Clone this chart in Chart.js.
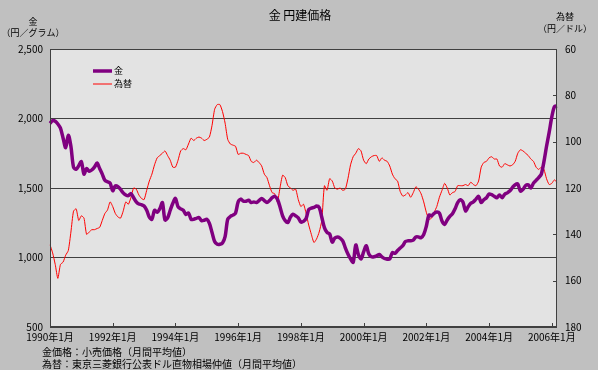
<!DOCTYPE html>
<html><head><meta charset="utf-8">
<script src="https://cdn.jsdelivr.net/npm/chart.js@4/dist/chart.umd.min.js"></script>
<style>html,body{margin:0;padding:0;background:#c0c0c0;overflow:hidden}</style>
</head><body>
<canvas id="c" width="598" height="370"></canvas>
<script>
const titleText = '金 円建価格';
const leftAxisTitle = ['金', '（円／グラム）'];
const rightAxisTitle = ['為替', '（円／ドル）'];
const footnotes = ['金価格：小売価格（月間平均値）', '為替：東京三菱銀行公表ドル直物相場仲値（月間平均値）'];
const seriesNames = ['金', '為替'];
const startYear = 1990;
const monthCount = 195;
const categories = [];
for (let k = 0; k < monthCount; k++) {
  categories.push((startYear + Math.floor(k / 12)) + '年' + (k % 12 + 1) + '月');
}
const xTickLabels = ['1990年1月','1992年1月','1994年1月','1996年1月','1998年1月','2000年1月','2002年1月','2004年1月','2006年1月'];
const leftTicks = [500, 1000, 1500, 2000, 2500];
const rightTicks = [60, 80, 100, 120, 140, 160, 180];

const goldValues = [
1965,1985,1980,1960,1930,1860,1790,1880,1800,1650,
1635,1660,1690,1600,1640,1620,1630,1650,1680,1640,
1600,1555,1545,1535,1480,1515,1510,1490,1465,1450,
1445,1460,1430,1400,1385,1380,1370,1340,1290,1275,
1340,1325,1350,1395,1270,1285,1340,1390,1425,1365,
1350,1340,1310,1320,1275,1275,1282,1287,1265,1268,
1275,1245,1180,1115,1095,1095,1105,1150,1275,1295,
1305,1320,1400,1420,1405,1405,1412,1395,1400,1395,
1410,1425,1410,1395,1410,1430,1440,1420,1365,1300,
1265,1252,1290,1312,1300,1285,1255,1260,1280,1345,
1355,1360,1370,1360,1290,1215,1180,1170,1110,1140,
1148,1140,1120,1070,1025,990,965,1090,1020,990,
1040,1085,1025,1005,1005,1012,1022,1005,993,988,
990,1035,1030,1050,1068,1085,1115,1120,1120,1125,
1148,1148,1143,1165,1225,1305,1300,1318,1328,1320,
1262,1238,1270,1295,1315,1350,1395,1415,1400,1335,
1365,1390,1400,1420,1440,1395,1415,1430,1457,1452,
1440,1430,1450,1430,1455,1465,1480,1505,1524,1528,
1478,1490,1518,1522,1500,1535,1555,1575,1600,1690,
1800,1900,2010,2085,2090
];
const fxValues = [
144.5,148,153,159,153,152,149,147,139,130,
129,134,132,133,140,139,138,138,137.5,137,
134,131,129.5,126,128,131,132.5,133,130,126,
127,124,120,120.5,123,124.5,125,121,117,114,
110,107,106,105,104,106,108,111,111,108,
104,103,103.5,101,98.5,99.5,98.5,98,98.5,99.5,
99,98,93,86,84,84,87,92,99,101,
101.5,102,105.5,105,105,105.5,106,108.5,109,108,
109,110.5,114,115.5,119,122,122.5,126,120,114.5,
115.5,119,120,121,120.5,125,128,127,131,136,
140,143.5,142,139,134,119,121,116,117,120,
120.5,120,121,120.5,116,110,106.5,105,103,104,
108,109.5,107.5,106.5,106,106,108.5,107,108,108.5,
110.5,114,116,117,121.5,123.5,123,122,124,122,
119.5,120.5,122.5,126,130.5,133.5,133,130.5,128,124,
121,118,120,123,122,121.5,119,119,119,118.5,
119,117.5,118.5,119,117,111,109,108.5,107,106.5,
107.5,107.5,110.5,111,109.5,110,110.5,110,108.5,105,
103.5,104,105,106,107.5,108.5,111,112,111,112,
116,118.5,118,116.5,117.5
];

const JP = '"Noto Sans CJK JP", "Noto Sans", sans-serif';

const decor = {
  id: 'decor',
  beforeDraw(chart) {
    const ctx = chart.ctx, a = chart.chartArea;
    ctx.save();
    ctx.fillStyle = '#c0c0c0';
    ctx.fillRect(0, 0, chart.width, chart.height);
    ctx.fillStyle = '#e3e3e3';
    ctx.fillRect(a.left, a.top, a.right - a.left, a.bottom - a.top);
    ctx.restore();
  },
  afterDraw(chart) {
    const ctx = chart.ctx, a = chart.chartArea;
    const xs = chart.scales.x, yr = chart.scales.y1;
    ctx.save();
    ctx.strokeStyle = '#404040';
    ctx.lineWidth = 1;
    ctx.strokeRect(Math.round(a.left) + 0.5, Math.round(a.top) + 0.5, Math.round(a.right - a.left) - 1, Math.round(a.bottom - a.top) - 1);
    ctx.beginPath();
    categories.forEach((c, i) => {
      if (xTickLabels.includes(c) && i > 0) {
        const px = Math.round(xs.getPixelForValue(i)) + 0.5;
        ctx.moveTo(px, a.bottom); ctx.lineTo(px, a.bottom - 4);
      }
    });
    rightTicks.forEach(v => {
      const py = Math.round(yr.getPixelForValue(v)) + 0.5;
      ctx.moveTo(a.right, py); ctx.lineTo(a.right - 4, py);
    });
    ctx.stroke();
    ctx.fillStyle = '#000';
    ctx.textBaseline = 'middle';
    ctx.textAlign = 'center';
    ctx.font = '12px ' + JP;
    ctx.fillText(titleText, 300, 15);
    ctx.font = '9px ' + JP;
    ctx.fillText(leftAxisTitle[0], 33, 22);
    ctx.fillText(leftAxisTitle[1], 33, 33);
    ctx.fillText(rightAxisTitle[0], 565, 17);
    ctx.fillText(rightAxisTitle[1], 565, 29);
    ctx.textAlign = 'left';
    ctx.font = '10px ' + JP;
    ctx.fillText(footnotes[0], 42, 352);
    ctx.fillText(footnotes[1], 42, 364);
    ctx.font = '9px ' + JP;
    chart.data.datasets.forEach((ds, i) => {
      const ly = 71 + i * 13;
      ctx.strokeStyle = ds.borderColor;
      ctx.lineWidth = ds.borderWidth;
      ctx.beginPath(); ctx.moveTo(93, ly); ctx.lineTo(112, ly); ctx.stroke();
      ctx.fillStyle = '#000';
      ctx.fillText(ds.label, 114, ly);
    });
    ctx.restore();
  }
};

new Chart(document.getElementById('c'), {
  type: 'line',
  data: {
    labels: categories,
    datasets: [
      { label: seriesNames[0], data: goldValues, yAxisID: 'y', borderColor: '#800080', borderWidth: 3.5, pointRadius: 0, tension: 0.3 },
      { label: seriesNames[1], data: fxValues, yAxisID: 'y1', borderColor: '#ff0000', borderWidth: 1, pointRadius: 0, tension: 0.2 }
    ]
  },
  options: {
    responsive: false,
    devicePixelRatio: 1,
    animation: false,
    layout: { padding: { top: 49, left: 0, right: 0, bottom: 0 } },
    plugins: { legend: { display: false }, tooltip: { enabled: false }, title: { display: false } },
    scales: {
      x: {
        type: 'category',
        offset: false,
        grid: { display: false, drawTicks: false, tickLength: 0 },
        border: { display: false },
        ticks: {
          autoSkip: false, maxRotation: 0, minRotation: 0, padding: 4,
          color: '#000', font: { size: 10, family: JP },
          callback: function(v, i) { const l = categories[i]; return xTickLabels.includes(l) ? l : null; }
        },
        afterFit: s => { s.height = 43; }
      },
      y: {
        position: 'left', min: 500, max: 2500,
        afterBuildTicks: s => { s.ticks = leftTicks.map(v => ({ value: v })); },
        grid: { color: '#404040', lineWidth: 1, drawTicks: false },
        border: { display: false },
        ticks: { padding: 7, color: '#000', font: { size: 10, family: JP }, callback: v => v.toLocaleString('en-US') },
        afterFit: s => { s.width = 50; }
      },
      y1: {
        position: 'right', min: 60, max: 180, reverse: true,
        afterBuildTicks: s => { s.ticks = rightTicks.map(v => ({ value: v })); },
        grid: { drawOnChartArea: false, drawTicks: false },
        border: { display: false },
        ticks: { padding: 8, color: '#000', font: { size: 10, family: JP } },
        afterFit: s => { s.width = 41; }
      }
    }
  },
  plugins: [decor]
});
</script>
</body></html>
